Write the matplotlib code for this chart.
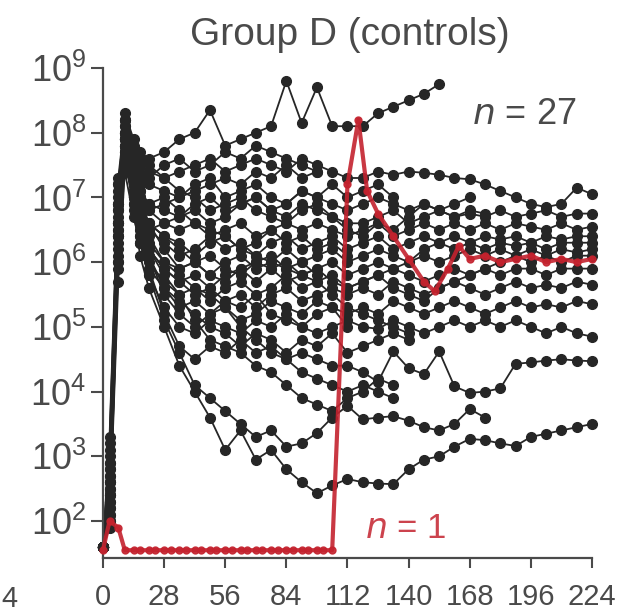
import matplotlib
matplotlib.use("Agg")
import matplotlib.pyplot as plt
import numpy as np

# ── Data (log10 copies/ml) ──────────────────────────────────
early_days = [0, 3, 7, 10, 14, 17, 21, 28, 35, 42, 49, 56, 63, 70, 77, 84, 91, 98, 105, 112]
late_days = [119, 126, 133, 140, 147, 154, 161, 168, 175, 182, 189, 196, 203, 210, 217, 224]
days = early_days + late_days

animal_01 = [1.6, 2.6, 6.9, 8.3, 7.9, 7.7, 7.6, 7.7, 7.9, 8.0, 8.35, 7.8, 7.9, 8.0, 8.1, 8.8, 8.15, 8.7, 8.1, 8.1,
             8.1, 8.3, 8.4, 8.5, 8.6, 8.75]
animal_02 = [1.6, 2.4, 6.6, 8.2, 7.7, 7.5, 7.4, 7.3, 7.4, 7.5, 7.6, 7.4, 7.5, 7.6, 7.5, 7.4, 7.6, 7.5, 7.4, 7.3,
             7.3, 7.4, 7.35, 7.4, 7.38, 7.35, 7.3, 7.28, 7.2, 7.1, 7.0, 6.9, 6.85, 6.9, 7.15, 7.05]
animal_03 = [1.6, 2.9, 7.0, 8.0, 7.5, 7.3, 7.2, 7.1, 7.0, 7.2, 7.3, 7.0, 7.1, 7.2, 7.0, 6.9, 7.1, 7.0, 6.9, 6.8,
             6.9, 7.0, 6.9, 6.8, 6.9, 6.8, 6.7, 6.8, 6.75]
animal_04 = [1.6, 2.2, 6.4, 7.9, 7.4, 7.1, 6.9, 6.8, 6.7, 6.9, 7.0, 6.8, 6.9, 7.0, 6.8, 6.7, 6.9, 6.8, 6.7, 6.6,
             6.6, 6.7, 6.8, 6.6, 6.7, 6.8, 6.7, 6.75, 6.7, 6.8, 6.7, 6.75, 6.8, 6.7, 6.75, 6.75]
animal_05 = [1.6, 3.1, 7.2, 8.1, 7.6, 7.2, 6.8, 6.6, 6.5, 6.6, 6.4, 6.5, 6.6, 6.4, 6.5, 6.6, 6.5, 6.6, 6.5, 6.4,
             6.5, 6.6, 6.4, 6.5, 6.6, 6.5, 6.6, 6.5, 6.6, 6.5, 6.6, 6.55, 6.5, 6.6, 6.5, 6.55]
animal_06 = [1.6, 2.0, 6.0, 7.7, 7.2, 6.8, 6.5, 6.3, 6.1, 6.2, 6.4, 6.2, 6.3, 6.1, 6.3, 6.4, 6.2, 6.3, 6.4, 6.2,
             6.3, 6.4, 6.2, 6.3, 6.4, 6.3, 6.4, 6.3, 6.4, 6.35, 6.4, 6.3, 6.4, 6.35, 6.4, 6.4]
animal_07 = [1.6, 2.7, 6.8, 8.0, 7.3, 6.9, 6.6, 6.2, 5.9, 6.0, 5.8, 6.0, 6.1, 5.9, 6.0, 6.2, 6.0, 6.1, 6.2, 6.0,
             6.1, 6.2, 6.1, 6.0, 6.2, 6.3, 6.2, 6.3, 6.2, 6.3, 6.25, 6.3, 6.2, 6.3, 6.3, 6.3]
animal_08 = [1.6, 2.3, 6.3, 7.8, 7.0, 6.6, 6.2, 5.9, 5.7, 5.8, 5.6, 5.8, 5.9, 5.7, 5.9, 6.0, 5.8, 5.9, 6.0, 5.8,
             5.9, 6.0, 5.9, 6.0, 6.1, 6.0, 6.1, 6.2, 6.1, 6.2, 6.1, 6.2, 6.1, 6.2, 6.15, 6.2]
animal_09 = [1.6, 3.3, 7.3, 8.2, 7.5, 7.0, 6.6, 6.4, 6.2, 6.0, 6.1, 5.9, 5.8, 6.0, 5.9, 5.7, 5.8, 5.9, 5.7, 5.6,
             5.7, 5.8, 5.6, 5.5, 5.4, 5.6, 5.7, 5.8, 5.9, 6.0, 6.1, 6.0, 6.1, 6.0, 6.1, 6.1]
animal_10 = [1.6, 2.1, 6.1, 7.6, 6.9, 6.4, 6.0, 5.7, 5.5, 5.6, 5.4, 5.6, 5.7, 5.5, 5.6, 5.8, 5.6, 5.7, 5.8, 5.6,
             5.7, 5.8, 5.9, 5.8, 5.7, 5.8, 5.9, 5.8, 5.9, 5.8, 5.9, 5.9, 5.8, 5.9, 5.9, 5.9]
animal_11 = [1.6, 2.5, 6.6, 7.9, 7.1, 6.5, 6.1, 5.6, 5.3, 5.4, 5.2, 5.4, 5.5, 5.3, 5.5, 5.6, 5.4, 5.5, 5.6, 5.5,
             5.6, 5.5, 5.7, 5.6, 5.5, 5.6, 5.7, 5.6, 5.5, 5.6, 5.7, 5.6, 5.65, 5.6, 5.7, 5.65]
animal_12 = [1.6, 2.8, 6.9, 8.0, 7.2, 6.6, 6.1, 5.5, 5.2, 5.0, 5.2, 5.3, 5.1, 5.2, 5.4, 5.3, 5.2, 5.4, 5.3, 5.2,
             5.3, 5.2, 5.4, 5.3, 5.2, 5.3, 5.4, 5.3, 5.2, 5.3, 5.4, 5.3, 5.35, 5.3, 5.4, 5.35]
animal_13 = [1.6, 2.2, 6.2, 7.7, 6.9, 6.3, 5.8, 5.3, 5.0, 4.9, 5.1, 5.0, 4.9, 5.1, 5.0, 5.2, 5.0, 4.9, 5.0, 5.1,
             5.0, 4.97, 5.1, 5.0, 4.9, 5.0, 5.1, 5.0, 5.1, 5.0, 5.1, 5.0, 4.9, 5.0, 4.9, 4.85]
animal_14 = [1.6, 2.6, 6.5, 7.8, 7.0, 6.4, 5.9, 5.2, 4.7, 4.5, 4.7, 4.6, 4.8, 4.6, 4.7, 4.5, 4.6, 4.5, 4.4, 4.4,
             4.3, 4.15, 4.62, 4.36, 4.27, 4.62, 4.08, 3.98, 4.0, 4.05, 4.43, 4.45, 4.48, 4.5, 4.48, 4.47]
animal_15 = [1.6, 2.4, 6.4, 7.7, 6.8, 6.1, 5.6, 5.0, 4.4, 4.0, 3.6, 3.1, 3.4, 2.95, 3.1, 2.8, 2.6, 2.43, 2.55, 2.65,
             2.6, 2.58, 2.57, 2.8, 2.95, 3.0, 3.15, 3.27, 3.25, 3.2, 3.16, 3.3, 3.35, 3.4, 3.45, 3.5]
animal_16 = [1.6, 2.9, 6.9, 7.9, 7.0, 6.3, 5.8, 5.1, 4.6, 4.1, 3.9, 3.7, 3.5, 3.3, 3.4, 3.15, 3.2, 3.36, 3.6, 3.78,
             3.57, 3.6, 3.62, 3.55, 3.45, 3.4, 3.5, 3.73, 3.6]
animal_17 = [1.6, 2.0, 5.9, 7.5, 7.0, 6.7, 6.5, 6.6, 6.7, 6.8, 6.6, 6.7, 6.9, 7.0, 6.8, 6.9, 7.1, 7.0, 7.2, 7.0,
             7.1, 7.2, 7.0]
animal_18 = [1.6, 2.7, 6.7, 7.9, 7.3, 7.0, 6.8, 6.9, 7.0, 7.1, 7.2, 7.3, 7.2, 7.4, 7.3, 7.5, 7.3, 7.4]
animal_19 = [1.6, 3.0, 7.1, 8.1, 7.4, 7.1, 6.9, 7.0, 6.8, 6.6, 6.5, 6.4, 6.2, 6.1, 6.0, 5.9, 5.8, 5.7, 5.5, 5.3,
             5.2, 5.1, 5.0, 4.9]
animal_20 = [1.6, 2.3, 6.4, 7.8, 7.2, 6.8, 6.4, 6.0, 5.8, 5.6, 5.5, 5.3, 5.0, 4.8, 4.6, 4.5, 4.3, 4.2, 4.1, 4.0,
             4.1, 4.0, 3.9]
animal_21 = [1.6, 2.5, 6.6, 7.9, 7.1, 6.6, 6.2, 5.8, 5.5, 5.1, 4.8, 4.7, 4.6, 4.4, 4.3, 4.1, 3.9, 3.8, 3.7, 3.9,
             4.0, 4.2, 4.1]
animal_22 = [1.6, 2.1, 6.0, 7.6, 7.0, 6.7, 6.6, 6.4, 6.3, 6.1, 6.3, 6.4, 6.2, 6.3, 6.5, 6.3, 6.4, 6.2, 6.3, 6.1]
animal_23 = [1.6, 2.8, 6.8, 8.0, 7.6, 7.4, 7.3, 7.5, 7.6, 7.4, 7.5, 7.7, 7.6, 7.8, 7.7, 7.6, 7.5, 7.4]
animal_24 = [1.6, 3.2, 7.2, 8.2, 7.8, 7.6, 7.5, 7.3, 7.1, 7.0, 6.8, 6.9, 7.0, 6.8, 6.7, 6.6, 6.8, 6.9, 6.7, 6.5,
             6.4, 6.6, 6.5, 6.7, 6.9, 6.8, 6.9, 7.0]
animal_25 = [1.6, 2.4, 6.5, 7.8, 7.1, 6.6, 6.2, 5.9, 5.7, 5.5, 5.6, 5.4, 5.3, 5.5, 5.2, 5.1, 5.0, 5.2, 5.3, 5.0]
animal_26 = [1.6, 2.6, 6.6, 7.9, 7.2, 6.7, 6.3, 6.0, 5.9, 6.0, 5.8, 5.7, 5.9, 6.0, 6.1, 5.9, 6.0, 5.8]
animal_27 = [1.6, 1.9, 5.7, 7.4, 6.7, 6.3, 5.9, 5.6, 5.4, 5.2, 5.0, 4.9, 4.7, 4.9, 4.8, 4.6, 4.8, 4.7, 4.9, 4.6,
             4.7, 4.8, 4.9, 4.8]

controls = [animal_01, animal_02, animal_03, animal_04, animal_05, animal_06, animal_07, animal_08, animal_09,
            animal_10, animal_11, animal_12, animal_13, animal_14, animal_15, animal_16, animal_17, animal_18,
            animal_19, animal_20, animal_21, animal_22, animal_23, animal_24, animal_25, animal_26, animal_27]

# the one animal that stayed below detection until ~day 105
red_days = [0, 3, 7, 10, 14, 17, 21, 24, 28, 31, 35, 38, 42, 45, 49, 52, 56, 59, 63, 66, 70, 73, 77, 80, 84,
            87, 91, 94, 98, 101, 105, 112, 117, 121, 126, 133, 140, 147, 152, 158, 163, 168, 175, 182, 189,
            196, 203, 210, 217, 224]
red_log = [1.55, 2.0, 1.9, 1.55, 1.55, 1.55, 1.55, 1.55, 1.55, 1.55, 1.55, 1.55, 1.55, 1.55, 1.55, 1.55,
           1.55, 1.55, 1.55, 1.55, 1.55, 1.55, 1.55, 1.55, 1.55, 1.55, 1.55, 1.55, 1.55, 1.55, 1.55,
           7.2, 8.2, 7.1, 6.75, 6.4, 6.05, 5.7, 5.55, 5.9, 6.25, 6.05, 6.1, 6.0, 6.05, 6.1, 6.0, 6.05, 6.0, 6.05]

x_ticks = [0, 28, 56, 84, 112, 140, 168, 196, 224]
y_exps = [2, 3, 4, 5, 6, 7, 8, 9]

# ── Style ───────────────────────────────────────────────────
plt.rcParams["font.family"] = ["Liberation Sans", "DejaVu Sans"]
plt.rcParams["mathtext.default"] = "regular"
TXT = "#4a4a4a"
INK = "#262626"
RED = "#c4222e"

fig = plt.figure(figsize=(6.2, 6.16), dpi=100)
ax = fig.add_axes([0.1661, 0.0942, 0.7887, 0.7955])

# ── Control animals ─────────────────────────────────────────
for vals in controls:
    d = days[:len(vals)]
    ax.plot(d, 10 ** np.array(vals), color=INK, lw=1.3, marker="o", ms=7,
            mfc=INK, mec=INK, clip_on=False, zorder=2)

# ── Red animal ──────────────────────────────────────────────
ax.plot(red_days, 10 ** np.array(red_log), color=RED, lw=3.0, marker="o", ms=5,
        mfc=RED, mec=RED, clip_on=False, zorder=3, alpha=0.9)

# ── Axes ────────────────────────────────────────────────────
ax.set_yscale("log")
ax.set_xlim(0, 224)
ax.set_ylim(10 ** 1.43, 1e9)
ax.minorticks_off()
ax.set_xticks(x_ticks)
ax.set_xticklabels([str(t) for t in x_ticks], fontsize=21, color=TXT)
ax.set_yticks([10.0 ** e for e in y_exps])
ax.set_yticklabels([rf"$10^{{{e}}}$" for e in y_exps], fontsize=26, color=TXT)
ax.tick_params(axis="x", length=7, width=1.5, color=TXT, pad=11)
ax.tick_params(axis="y", length=9, width=1.5, color=TXT, pad=3)
for side in ["top", "right"]:
    ax.spines[side].set_visible(False)
for side in ["left", "bottom"]:
    ax.spines[side].set_color(TXT)
    ax.spines[side].set_linewidth(1.6)

# ── Text ────────────────────────────────────────────────────
fig.text(0.565, 0.943, "Group D (controls)", fontsize=28, color=TXT, ha="center", va="center")
ax.text(0.755, 0.905, r"$\it{n}$ = 27", transform=ax.transAxes, fontsize=26, color=TXT,
        ha="left", va="center")
ax.text(0.535, 0.06, r"$\it{n}$ = 1", transform=ax.transAxes, fontsize=25, color=RED,
        ha="left", va="center", alpha=0.85)
fig.text(0.002, 0.028, "4", fontsize=21, color=TXT, ha="left", va="center")

fig.savefig("out.png", dpi=100, facecolor="white")
